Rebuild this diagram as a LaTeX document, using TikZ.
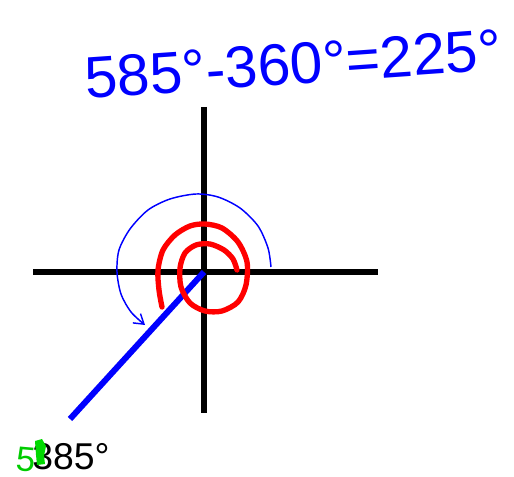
\documentclass[tikz,border=0pt]{standalone}
\usepackage{fontspec}
\setmainfont{Liberation Sans}
\usepackage{tikz}
\usetikzlibrary{arrows.meta,calc}

\begin{document}
\begin{tikzpicture}[x=0.75pt,y=-0.75pt]
\useasboundingbox (0,0) rectangle (514,477);
% ---- axes ----
\coordinate (O) at (204,272);
\draw[line width=4.5pt] (33,272) -- (378,272);
\draw[line width=4.5pt] (204,107) -- (204,413);
% ---- terminal side at 225 deg ----
\coordinate (T) at (70,419);
\draw[line width=4.5pt,blue] (O) -- (T);
% ---- red spiral (one full turn + 225 deg) ----
\draw[red,line width=4pt,line cap=round,line join=round] plot[smooth] coordinates {(162,307) (159,290) (158,270) (163,250) (175,235) (190,226) (205,224) (222,228) (238,242) (247,262) (246,285) (238,302) (222,311) (205,311) (190,303) (181,287) (180,268) (185,253) (196,245) (210,244) (224,250) (233,259) (237,270)};
% ---- blue arc, 225 deg ----
\draw[blue,line width=1.1pt,-{Straight Barb[length=7pt,width=9pt]}] plot[smooth] coordinates {(271,267) (268,248) (258,226) (240,208) (218,197) (196,194) (170,199) (148,210) (130,229) (119,250) (117,272) (121,294) (131,312) (145,325)};
% ---- texts ----
\node[blue,font=\fontsize{44}{46}\selectfont,rotate=4,inner sep=0pt] (calc) at (293,64) {585°-360°=225°};
\node[font=\fontsize{28}{30}\selectfont,inner sep=0pt,anchor=west] (ang) at (32,457) {385°};
\node[green!80!black,font=\fontsize{26}{28}\selectfont,rotate=-5,inner sep=0pt,text depth=0pt,anchor=base] (five) at (25,471) {5};
\fill[green!85!black] (35,441) -- (42,439) -- (46,446) -- (44,456) -- (45,464) -- (37,465) -- (36,455) -- cycle;
\end{tikzpicture}
\end{document}
